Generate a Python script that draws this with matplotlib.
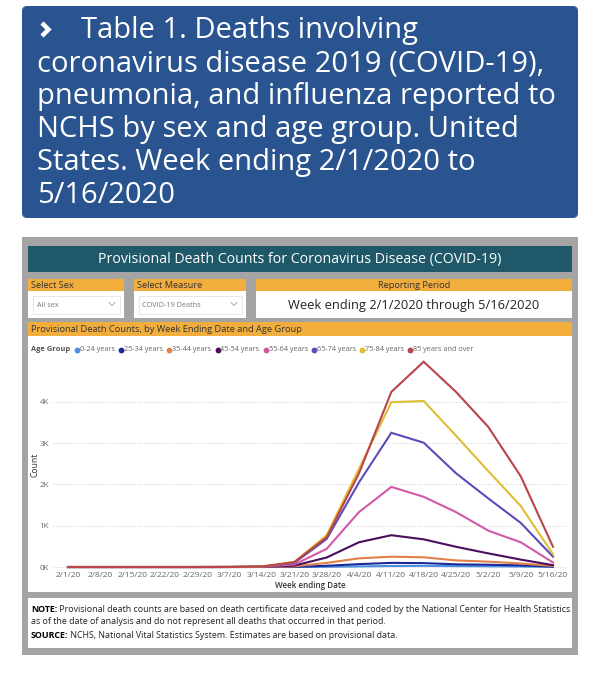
import matplotlib
matplotlib.use('Agg')
import matplotlib.pyplot as plt
from matplotlib.patches import Rectangle, FancyBboxPatch
from matplotlib.ticker import FuncFormatter

plt.rcParams['font.family'] = ['Open Sans', 'DejaVu Sans']

# ---- data ----
weeks = ['2/1/20', '2/8/20', '2/15/20', '2/22/20', '2/29/20', '3/7/20', '3/14/20', '3/21/20',
         '3/28/20', '4/4/20', '4/11/20', '4/18/20', '4/25/20', '5/2/20', '5/9/20', '5/16/20']
age_groups = ['0-24 years', '25-34 years', '35-44 years', '45-54 years',
              '55-64 years', '65-74 years', '75-84 years', '85 years and over']
group_colors = ['#4a8fe0', '#1b2a96', '#e0804a', '#4a0e5c',
                '#d159a8', '#5b4bb8', '#dfbd34', '#b9444a']

deaths_0_24 = [0, 0, 0, 0, 0, 0, 0, 1, 5, 15, 25, 28, 22, 18, 12, 4]
deaths_25_34 = [0, 0, 0, 0, 0, 0, 1, 4, 30, 70, 100, 95, 65, 55, 40, 10]
deaths_35_44 = [0, 0, 0, 0, 0, 0, 3, 15, 100, 210, 250, 235, 160, 130, 85, 25]
deaths_45_54 = [0, 0, 0, 0, 0, 1, 6, 35, 230, 600, 770, 670, 490, 330, 180, 45]
deaths_55_64 = [0, 0, 0, 0, 0, 1, 8, 60, 440, 1330, 1940, 1700, 1330, 880, 600, 110]
deaths_65_74 = [0, 0, 0, 0, 0, 1, 10, 100, 680, 2050, 3250, 3010, 2270, 1660, 1070, 250]
deaths_75_84 = [0, 0, 0, 0, 0, 2, 12, 120, 770, 2380, 3990, 4020, 3180, 2320, 1480, 310]
deaths_85_over = [0, 0, 0, 0, 0, 2, 12, 120, 720, 2270, 4240, 4970, 4240, 3390, 2200, 490]

series = [deaths_0_24, deaths_25_34, deaths_35_44, deaths_45_54,
          deaths_55_64, deaths_65_74, deaths_75_84, deaths_85_over]

title_lines = ['Table 1. Deaths involving',
               'coronavirus disease 2019 (COVID-19),',
               'pneumonia, and influenza reported to',
               'NCHS by sex and age group. United',
               'States. Week ending 2/1/2020 to',
               '5/16/2020']

W, H = 600, 677
fig = plt.figure(figsize=(W / 100, H / 100), dpi=100)
renderer = fig.canvas.get_renderer()

# background canvas in pixel units (y down)
bg = fig.add_axes([0, 0, 1, 1])
bg.set_xlim(0, W)
bg.set_ylim(H, 0)
bg.axis('off')


def box(x0, y0, x1, y1, color, ec='none', lw=0):
    bg.add_patch(Rectangle((x0, y0), x1 - x0, y1 - y0, facecolor=color, edgecolor=ec, linewidth=lw))


def runs(x, y, parts, size):
    # draw bold/normal pieces one after another on a line
    for txt, weight, color in parts:
        t = bg.text(x, y, txt, fontsize=size, fontweight=weight, color=color, va='center')
        x += t.get_window_extent(renderer).width
    return x


# title block
bg.add_patch(FancyBboxPatch((22, 6), 556, 212, boxstyle='round,pad=0,rounding_size=5',
                            facecolor='#29548f', edgecolor='none'))
bg.plot([42, 48.5, 42], [23, 29.5, 36], color='white', lw=3.2, solid_joinstyle='miter',
        solid_capstyle='butt')
baselines = [38, 71, 104, 137, 170, 203]
for i, (line, yb) in enumerate(zip(title_lines, baselines)):
    bg.text(81 if i == 0 else 37, yb, line, color='white', fontsize=21, va='baseline', ha='left')

# dashboard frame
box(22, 237, 578, 655, '#a4a4a4')
box(28, 246, 572, 272, '#1f5868')
bg.text(300, 259.5, 'Provisional Death Counts for Coronavirus Disease (COVID-19)', color='white',
        fontsize=10.2, ha='center', va='center')

orange = '#f2ae3d'
# selectors
for x0, x1, label in [(28, 124, 'Select Sex'), (134, 246, 'Select Measure')]:
    box(x0, 279, x1, 291, orange)
    box(x0, 291, x1, 318, 'white')
    bg.text(x0 + 3, 285.5, label, fontsize=6.7, color='#333333', va='center')
    box(x0 + 5, 296, x1 - 4, 314, 'white', ec='#e3e3e3', lw=0.6)
    bg.plot([x1 - 15, x1 - 12, x1 - 9], [302.5, 305.5, 302.5], color='#a0a0a0', lw=0.6)
bg.text(37, 305.5, 'All sex', fontsize=5.2, color='#777777', va='center')
bg.text(142, 305.5, 'COVID-19 Deaths', fontsize=5.2, color='#777777', va='center')

box(256, 279, 572, 291, orange)
box(256, 291, 572, 318, 'white')
bg.text(414, 285.5, 'Reporting Period', fontsize=6.7, color='#333333', ha='center', va='center')
bg.text(414, 305.5, 'Week ending 2/1/2020 through 5/16/2020', fontsize=9.3, color='#222222',
        ha='center', va='center')

# chart panel
box(28, 322, 572, 336, orange)
bg.text(31, 329, 'Provisional Death Counts, by Week Ending Date and Age Group', fontsize=6.7,
        color='#333333', va='center')
box(28, 336, 572, 592, 'white')

# legend, entries laid out one after another
lx = runs(31, 349.5, [('Age Group', 'bold', '#555555')], 5.4) + 5
for name, c in zip(age_groups, group_colors):
    bg.plot(lx + 2, 349.5, 'o', color=c, ms=4.2, mec='none')
    lx = runs(lx + 5, 349.5, [(name, 'normal', '#666666')], 5.2) + 4

bg.text(35, 465, 'Count', fontsize=6.2, color='#333333', rotation=90, ha='center', va='center')
bg.text(310, 585, 'Week ending Date', fontsize=5.8, color='#333333', ha='center', va='center',
        fontweight='semibold')

# note panel
box(28, 598, 572, 648, 'white')
ns = 6.4
runs(31, 609, [('NOTE:', 'bold', 'black'),
               (' Provisional death counts are based on death certificate data received and coded '
                'by the National Center for Health Statistics', 'normal', '#222222')], ns)
runs(31, 622, [('as of the date of analysis and do not represent all deaths that occurred in that period.',
                'normal', '#222222')], ns)
runs(31, 635, [('SOURCE:', 'bold', 'black'),
               (' NCHS, National Vital Statistics System. Estimates are based on provisional data.',
                'normal', '#222222')], ns)

# line chart
ax = fig.add_axes([53 / W, 1 - 569 / H, (567 - 53) / W, (569 - 356) / H])
ax.patch.set_alpha(0)
x = list(range(len(weeks)))
for vals, c, name in zip(series, group_colors, age_groups):
    ax.plot(x, vals, color=c, lw=1.5, label=name, solid_joinstyle='miter')
ax.set_xlim(-0.464, 15.433)
ax.set_ylim(-48, 5109)
ax.set_yticks([0, 1000, 2000, 3000, 4000])
ax.yaxis.set_major_formatter(FuncFormatter(lambda v, p: f'{int(v / 1000)}K'))
ax.set_xticks(x)
ax.set_xticklabels(weeks)
ax.grid(axis='y', linestyle=(0, (1, 2)), color='#c8c8c8', lw=0.7)
ax.set_axisbelow(True)
for s in ax.spines.values():
    s.set_visible(False)
ax.tick_params(length=0, colors='#666666', pad=3)
ax.tick_params(axis='y', labelsize=5.8)
ax.tick_params(axis='x', labelsize=6.0, pad=2)

fig.savefig('out.png', dpi=100)
